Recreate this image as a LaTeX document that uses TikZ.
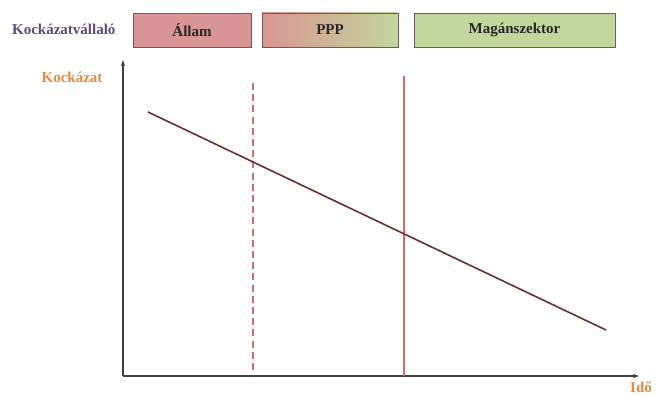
\documentclass[tikz,border=0pt]{standalone}
\usepackage{fontspec}
\setmainfont{Liberation Serif}
\usetikzlibrary{arrows.meta,calc}
\definecolor{allamfill}{HTML}{D99594}
\definecolor{magfill}{HTML}{C3D69B}
\definecolor{boxborder}{HTML}{6E5A5A}
\definecolor{labelpurple}{HTML}{5F497A}
\definecolor{labelorange}{HTML}{E9883A}
\definecolor{riskline}{HTML}{6B2E2C}
\definecolor{vred}{HTML}{CF6E6E}
\tikzset{
  x=1pt,y=-1pt,
  phasebox/.style={draw=boxborder,line width=0.8pt,minimum height=34pt,inner sep=0pt,
    font=\bfseries\fontsize{15}{17}\selectfont,text=black!85},
  axis/.style={draw=black!75,line width=1.1pt,-{Stealth[length=6pt,width=4pt]}},
  vline/.style={draw=vred,line width=1.6pt},
  orangelabel/.style={font=\bfseries\fontsize{15}{17}\selectfont,text=labelorange},
}
\begin{document}
\begin{tikzpicture}
\useasboundingbox (0,0) rectangle (656,396);
% header
\node[font=\bfseries\fontsize{15}{17}\selectfont,text=labelpurple,anchor=east] (kv) at (119,29) {Kockázatvállaló};
\node[phasebox,fill=allamfill,minimum width=118pt] (allam) at (192,30) {Állam};
\node[phasebox,left color=allamfill,right color=magfill,minimum width=136pt] (ppp) at (330,30) {PPP};
\node[phasebox,fill=magfill,minimum width=201pt] (mag) at (514.5,30) {Magánszektor};
% axes
\coordinate (o) at (123,376);
\coordinate (ytop) at (123,60);
\coordinate (xend) at (639,376);
\draw[axis] (o) -- (ytop);
\draw[axis] (o) -- (xend);
\node[orangelabel] (kock) at (72,77) {Kockázat};
\node[orangelabel,inner sep=1pt] (ido) at (641,387) {Idő};
% verticals
\coordinate (d1) at (253,83);
\coordinate (d2) at (253,370);
\draw[vline,dash pattern=on 7pt off 4.2pt] (d1) -- (d2);
\coordinate (s1) at (404,76);
\coordinate (s2) at (404,376);
\draw[vline] (s1) -- (s2);
% risk line
\coordinate (r1) at (148,112);
\coordinate (r2) at (606,330);
\draw[riskline,line width=1.6pt] (r1) -- (r2);
\end{tikzpicture}
\end{document}
